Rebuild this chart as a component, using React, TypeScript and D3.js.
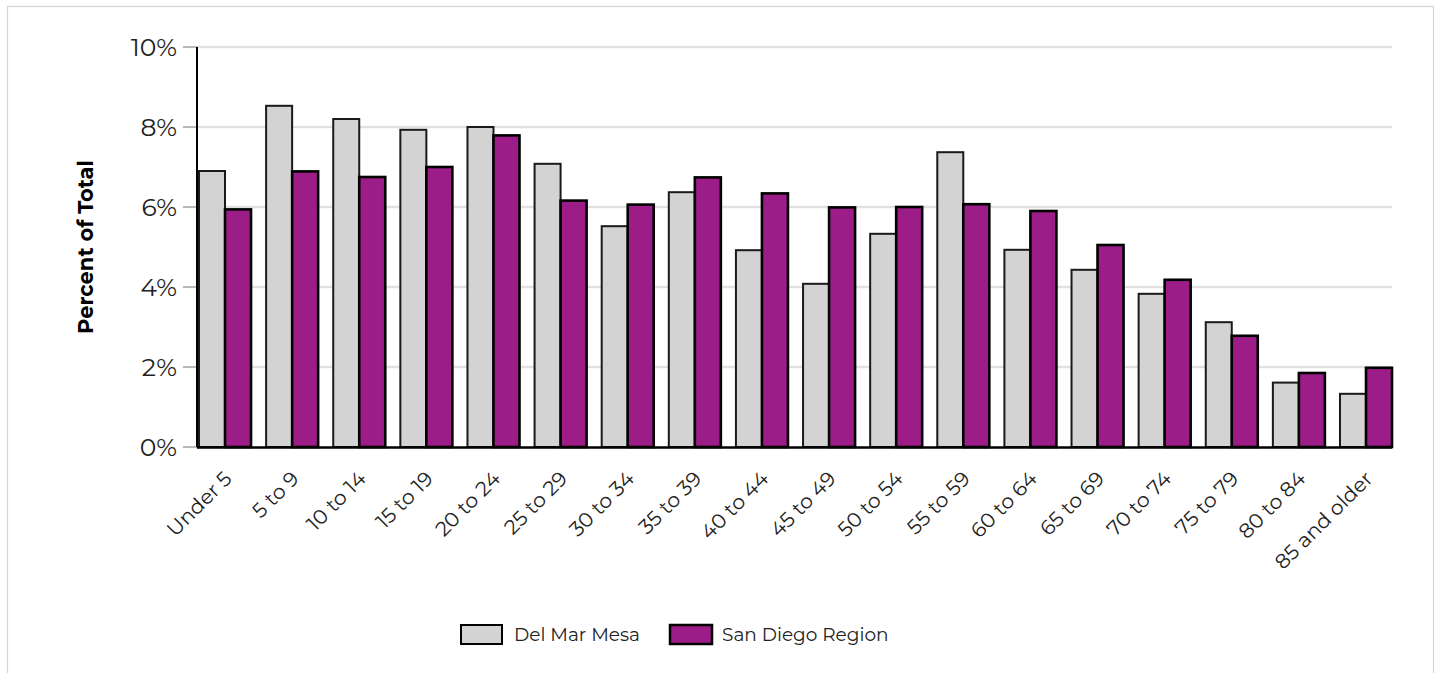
import React from "react";
import * as d3 from "d3";

const categories = [
  "Under 5", "5 to 9", "10 to 14", "15 to 19", "20 to 24", "25 to 29",
  "30 to 34", "35 to 39", "40 to 44", "45 to 49", "50 to 54", "55 to 59",
  "60 to 64", "65 to 69", "70 to 74", "75 to 79", "80 to 84", "85 and older",
];
const delMarMesa = [6.9, 8.53, 8.2, 7.93, 8.0, 7.08, 5.52, 6.37, 4.92, 4.08, 5.33, 7.37, 4.93, 4.43, 3.83, 3.12, 1.61, 1.33];
const sanDiego = [5.94, 6.89, 6.75, 7.0, 7.79, 6.16, 6.06, 6.74, 6.34, 5.99, 6.0, 6.07, 5.9, 5.05, 4.18, 2.78, 1.85, 1.98];
const seriesNames = ["Del Mar Mesa", "San Diego Region"];
const yTicks = [0, 2, 4, 6, 8, 10];

const FONT = "Montserrat, 'Noto Sans', sans-serif";
const GRAY = "#d3d3d3";
const PURPLE = "#9c1d88";

export default function App() {
  const W = 1439, H = 673;
  const axisX = 197;
  const plotRight = 1392;
  const x = d3.scaleBand<string>().domain(categories).range([199, 1392]).paddingInner(0.225).paddingOuter(0);
  const y = d3.scaleLinear().domain([0, 10]).range([447, 47]);
  const bw = x.bandwidth() / 2;

  return (
    <svg width={W} height={H} style={{ position: "absolute", left: 0, top: 0, background: "#fff" }}>
      <rect x={7.5} y={6.5} width={1426} height={720} fill="#fff" stroke="#d6d6d6" strokeWidth={1.2} />
      {yTicks.map((t) => (
        <g key={t}>
          {t > 0 && <line x1={axisX} x2={plotRight} y1={y(t)} y2={y(t)} stroke="#e1e1e1" strokeWidth={2.5} />}
          <line x1={183} x2={axisX} y1={y(t)} y2={y(t)} stroke="#8a8a8a" strokeWidth={1.2} />
          <text x={177} y={y(t)} dy="0.36em" textAnchor="end" fontFamily={FONT} fontSize={25} fill="#222">
            {t}%
          </text>
        </g>
      ))}
      {categories.map((c, i) => {
        const x0 = x(c)!;
        return (
          <g key={c}>
            <rect x={x0} y={y(delMarMesa[i])} width={bw} height={y(0) - y(delMarMesa[i])} fill={GRAY} stroke="#1a1a1a" strokeWidth={2} />
            <rect x={x0 + bw} y={y(sanDiego[i])} width={bw} height={y(0) - y(sanDiego[i])} fill={PURPLE} stroke="#000" strokeWidth={2.6} />
          </g>
        );
      })}
      <line x1={axisX} x2={axisX} y1={y(10)} y2={y(0)} stroke="#000" strokeWidth={2} />
      <line x1={axisX} x2={plotRight} y1={y(0) + 0.5} y2={y(0) + 0.5} stroke="#000" strokeWidth={2.5} />
      {categories.map((c) => {
        const cx = x(c)! + x.bandwidth() / 2 + 8;
        return (
          <text key={c} transform={`translate(${cx},${480}) rotate(-45)`} textAnchor="end" fontFamily={FONT} fontSize={20.5} fill="#222">
            {c}
          </text>
        );
      })}
      <text transform={`translate(93,247) rotate(-90)`} textAnchor="middle" fontFamily={FONT} fontSize={21} fontWeight="bold" fill="#000">
        Percent of Total
      </text>
      <g>
        <rect x={461} y={625} width={41} height={19} fill={GRAY} stroke="#000" strokeWidth={2} />
        <text x={514} y={634.5} dy="0.36em" fontFamily={FONT} fontSize={18.5} fill="#222">{seriesNames[0]}</text>
        <rect x={670} y={625} width={42} height={19} fill={PURPLE} stroke="#000" strokeWidth={2.5} />
        <text x={722} y={634.5} dy="0.36em" fontFamily={FONT} fontSize={18.5} fill="#222">{seriesNames[1]}</text>
      </g>
    </svg>
  );
}
